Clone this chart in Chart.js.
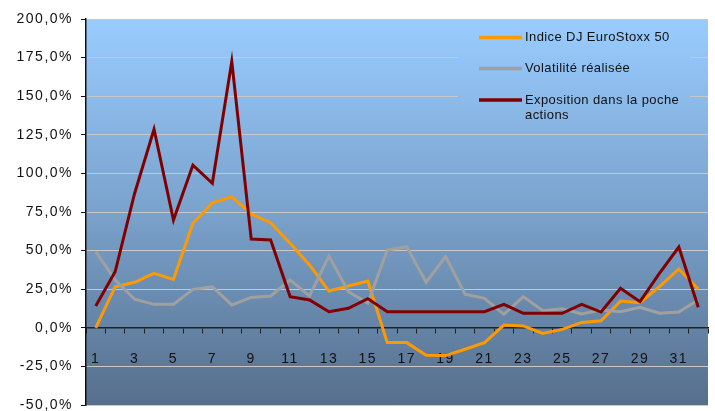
<!DOCTYPE html>
<html>
<head>
<meta charset="utf-8">
<script src="https://cdn.jsdelivr.net/npm/chart.js@4/dist/chart.umd.min.js"></script>
<style>
html,body{margin:0;padding:0;background:#fff;}
#c{display:block;}
</style>
</head>
<body>
<canvas id="c" width="715" height="411"></canvas>
<script>
const categories = ['1','2','3','4','5','6','7','8','9','10','11','12','13','14','15','16','17','18','19','20','21','22','23','24','25','26','27','28','29','30','31','32'];
const indiceEuroStoxx = [0,26.6,29.5,35.3,31.4,67.7,81,84.9,73.7,68.1,54.7,40.7,23.8,27.1,30.3,-9.6,-9.6,-17.8,-18,-13.9,-9.6,1.8,1.2,-3.6,-1,3.5,4.6,17.4,16.3,26.6,38.1,25.1];
const volatilite = [49.3,31,18.5,15.2,15.2,24.9,26.6,14.8,19.7,20.6,31,20.6,46.5,23.4,16,50.4,52.5,29.5,46.1,21.7,19.1,8.7,20.2,11.1,12.4,8.9,11.5,10.4,13.3,9.4,10.2,18];
const exposition = [14.1,36.3,87,128.6,69.8,105.4,93.6,172.4,57.5,56.9,20.2,18,10.4,12.6,18.9,10.4,10.4,10.4,10.4,10.4,10.4,15.2,9.4,9.4,9.4,15.2,10.2,25.6,16.9,35.3,52.3,13.3];
const seriesNames = ['Indice DJ EuroStoxx 50','Volatilité réalisée','Exposition dans la poche actions'];
const seriesColors = ['#FF9900','#A0A0A0','#800000'];
const yTicks = {min:-50, max:200, step:25};

function getGrad(chart){
  const a = chart.chartArea, ctx = chart.ctx;
  const g = ctx.createLinearGradient(0, a.top, 0, a.bottom);
  g.addColorStop(0, '#99CCFF');
  g.addColorStop(0.5, '#7AA2CC');
  g.addColorStop(1, '#566F8C');
  return g;
}

const bgPlugin = {
  id:'bg',
  beforeUpdate(chart){ try{ chart.ctx.letterSpacing = '1.5px'; }catch(e){} },
  beforeDraw(chart){
    const a = chart.chartArea, ctx = chart.ctx;
    ctx.save();
    ctx.fillStyle = getGrad(chart);
    ctx.fillRect(a.left, a.top, a.right - a.left, a.bottom - a.top);
    ctx.restore();
  },
  afterDraw(chart){
    const ctx = chart.ctx;
    ctx.save();
    ctx.fillStyle = getGrad(chart);
    ctx.fillRect(458, 22, 232, 104);
    try{ ctx.letterSpacing = '0.4px'; }catch(e){}
    ctx.font = '13px "Liberation Sans", Arial, sans-serif';
    ctx.textBaseline = 'middle';
    ctx.textAlign = 'left';
    const rows = [37.5, 68.5, 100];
    for(let i=0;i<3;i++){
      ctx.strokeStyle = seriesColors[i];
      ctx.lineWidth = 3.5;
      ctx.beginPath();
      ctx.moveTo(479, rows[i]);
      ctx.lineTo(522, rows[i]);
      ctx.stroke();
      ctx.fillStyle = '#111';
      if(i===2){
        ctx.fillText('Exposition dans la poche', 525, rows[i]);
        ctx.fillText('actions', 525, rows[i]+15);
      } else {
        ctx.fillText(seriesNames[i], 525, rows[i]);
      }
    }
    ctx.restore();
    try{ ctx.letterSpacing = '1.5px'; }catch(e){}
  }
};

const datasets = [
  {label:seriesNames[0], data:indiceEuroStoxx, borderColor:seriesColors[0], order:2},
  {label:seriesNames[1], data:volatilite, borderColor:seriesColors[1], order:1},
  {label:seriesNames[2], data:exposition, borderColor:seriesColors[2], order:0}
].map(d => Object.assign(d, {borderWidth:3, pointRadius:0, tension:0, fill:false, backgroundColor:d.borderColor, borderJoinStyle:'miter'}));

new Chart(document.getElementById('c'), {
  type:'line',
  data:{labels:categories, datasets:datasets},
  options:{
    responsive:false,
    animation:false,
    events:[],
    layout:{padding:{top:19,right:7,bottom:6,left:0}},
    plugins:{legend:{display:false}, tooltip:{enabled:false}},
    scales:{
      x:{
        type:'category',
        position:{y:0},
        offset:true,
        afterFit(scale){ scale.paddingLeft = 0; scale.paddingRight = 0; },
        grid:{display:true, drawOnChartArea:false, drawTicks:true, tickLength:5, tickColor:'#222', offset:true},
        border:{display:true, color:'#222', width:1.5},
        ticks:{
          autoSkip:false, maxRotation:0, padding:18, color:'#111',
          font:{family:'"Liberation Sans", Arial, sans-serif', size:14},
          callback:function(v, i){ return (i % 2 === 0) ? this.getLabelForValue(v) : ''; }
        }
      },
      y:{
        min:yTicks.min, max:yTicks.max,
        afterFit(scale){ scale.width = 86; scale.paddingTop = 0; scale.paddingBottom = 0; },
        grid:{color:'#C8C8C8', lineWidth:1, tickLength:5, tickColor:'#111'},
        border:{display:true, color:'#111', width:1.5},
        ticks:{
          stepSize:yTicks.step, padding:8, color:'#111',
          font:{family:'"Liberation Sans", Arial, sans-serif', size:14},
          callback:(v)=> v.toFixed(1).replace('.', ',') + '%'
        }
      }
    }
  },
  plugins:[bgPlugin]
});
</script>
</body>
</html>
